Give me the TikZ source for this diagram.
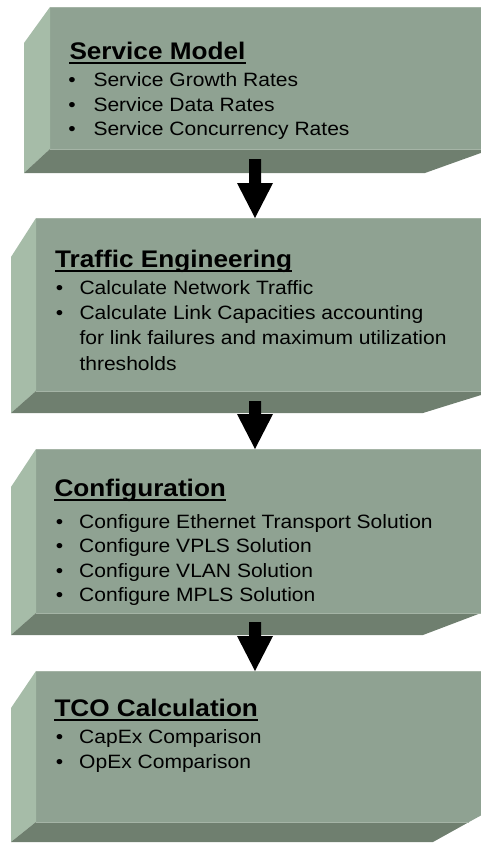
\documentclass[tikz,border=0pt]{standalone}
\usepackage{fontspec}
\setmainfont{Liberation Sans}[FakeStretch=1.09]
\usetikzlibrary{calc}
\definecolor{frontc}{RGB}{143,162,146}
\definecolor{leftc}{RGB}{166,188,168}
\definecolor{botc}{RGB}{111,127,111}
\definecolor{edgec}{RGB}{165,180,166}
\begin{document}
\begin{tikzpicture}[x=1pt,y=-1pt,
  front/.style={fill=frontc},
  leftface/.style={fill=leftc},
  bottomface/.style={fill=botc},
  edge/.style={draw=edgec, line width=0.9pt},
  ttl/.style={inner sep=0pt, anchor=base west, font=\fontsize{24}{28}\selectfont\bfseries},
  itm/.style={inner sep=0pt, anchor=base west, font=\fontsize{19.3}{24}\selectfont},
  bul/.style={inner sep=0pt, anchor=base, font=\fontsize{19.3}{24}\selectfont},
  uline/.style={line width=2.3pt},
  blockarrow/.style={fill=black, to path={-- ($(\tikztostart)+(6,0)$) -- ($(\tikztotarget)+(6,-35)$) -- ($(\tikztotarget)+(18,-35)$) -- (\tikztotarget) -- ($(\tikztotarget)+(-18,-35)$) -- ($(\tikztotarget)+(-6,-35)$) -- ($(\tikztostart)+(-6,0)$) -- cycle}}
]
\useasboundingbox (0,0) rectangle (481,843);
\clip (0,0) rectangle (481,843);

% ---------- Box 1: Service Model ----------
\path[front] (50,7) rectangle (500,149);
\path[leftface] (24,43) -- (50,7) -- (50,149) -- (24,173) -- cycle;
\path[bottomface] (24,173) -- (50,149) -- (492,149) -- (425,173) -- cycle;
\draw[edge] (50,7.4) -- (500,7.4);
\draw[edge] (50,149.4) -- (492,149.4);

% ---------- Box 2: Traffic Engineering ----------
\path[front] (36,218) rectangle (500,391);
\path[leftface] (11,257) -- (36,218) -- (36,391) -- (11,413) -- cycle;
\path[bottomface] (11,413) -- (36,391) -- (494,391) -- (423,413) -- cycle;
\draw[edge] (36,218.4) -- (500,218.4);
\draw[edge] (36,391.4) -- (494,391.4);

% ---------- Box 3: Configuration ----------
\path[front] (36,449) rectangle (500,613);
\path[leftface] (11,487) -- (36,449) -- (36,613) -- (11,635) -- cycle;
\path[bottomface] (11,635) -- (36,613) -- (481,613) -- (423,635) -- cycle;
\draw[edge] (36,449.4) -- (500,449.4);
\draw[edge] (36,613.4) -- (481,613.4);

% ---------- Box 4: TCO Calculation ----------
\path[front] (36,671) -- (500,671) -- (500,805) -- (469,822) -- (36,822) -- cycle;
\path[leftface] (11,708) -- (36,671) -- (36,822) -- (11,842) -- cycle;
\path[bottomface] (11,842) -- (36,822) -- (469,822) -- (433,842) -- cycle;
\draw[edge] (36,671.4) -- (500,671.4);
\draw[edge] (36,822.4) -- (469,822.4);

% ---------- connector end points ----------
\coordinate (a1) at (255,159);
\coordinate (b2) at (255,218);
\coordinate (a2) at (255,401);
\coordinate (b3) at (255,449);
\coordinate (a3) at (255,622);
\coordinate (b4) at (255,671);

\fill[blockarrow] (a1) to (b2);
\fill[blockarrow] (a2) to (b3);
\fill[blockarrow] (a3) to (b4);

% ---------- texts box 1 ----------
\node[ttl] (t1) at (69.3,59.3) {Service Model};
\draw[uline] ([yshift=-3.6pt]t1.base west) -- ([yshift=-3.6pt]t1.base east);
\node[bul] (t1b1) at (72,86.5) {•};
\node[itm] (t1i1) at (93.3,86.5) {Service Growth Rates};
\node[bul] (t1b2) at (72,111.2) {•};
\node[itm] (t1i2) at (93.3,111.2) {Service Data Rates};
\node[bul] (t1b3) at (72,135.8) {•};
\node[itm] (t1i3) at (93.3,135.8) {Service Concurrency Rates};

% ---------- texts box 2 ----------
\node[ttl] (t2) at (55,267.7) {Traffic Engineering};
\draw[uline] ([yshift=-3.6pt]t2.base west) -- ([yshift=-3.6pt]t2.base east);
\node[bul] (t2b1) at (59.5,294.3) {•};
\node[itm] (t2i1) at (79.3,294.3) {Calculate Network Traffic};
\node[bul] (t2b2) at (59.5,319.5) {•};
\node[itm] (t2i2) at (79.3,319.5) {Calculate Link Capacities accounting};
\node[itm] (t2i2b) at (79.3,344.8) {for link failures and maximum utilization};
\node[itm] (t2i2c) at (79.3,370) {thresholds};

% ---------- texts box 3 ----------
\node[ttl] (t3) at (54.3,496.7) {Configuration};
\draw[uline] ([yshift=-3.6pt]t3.base west) -- ([yshift=-3.6pt]t3.base east);
\node[bul] (t3b1) at (59.5,528) {•};
\node[itm] (t3i1) at (79,528) {Configure Ethernet Transport Solution};
\node[bul] (t3b2) at (59.5,552.5) {•};
\node[itm] (t3i2) at (79,552.5) {Configure VPLS Solution};
\node[bul] (t3b3) at (59.5,577) {•};
\node[itm] (t3i3) at (79,577) {Configure VLAN Solution};
\node[bul] (t3b4) at (59.5,601.5) {•};
\node[itm] (t3i4) at (79,601.5) {Configure MPLS Solution};

% ---------- texts box 4 ----------
\node[ttl] (t4) at (54.3,716.7) {TCO Calculation};
\draw[uline] ([yshift=-3.6pt]t4.base west) -- ([yshift=-3.6pt]t4.base east);
\node[bul] (t4b1) at (59.5,743.3) {•};
\node[itm] (t4i1) at (79,743.3) {CapEx Comparison};
\node[bul] (t4b2) at (59.5,768) {•};
\node[itm] (t4i2) at (79,768) {OpEx Comparison};
\end{tikzpicture}
\end{document}
